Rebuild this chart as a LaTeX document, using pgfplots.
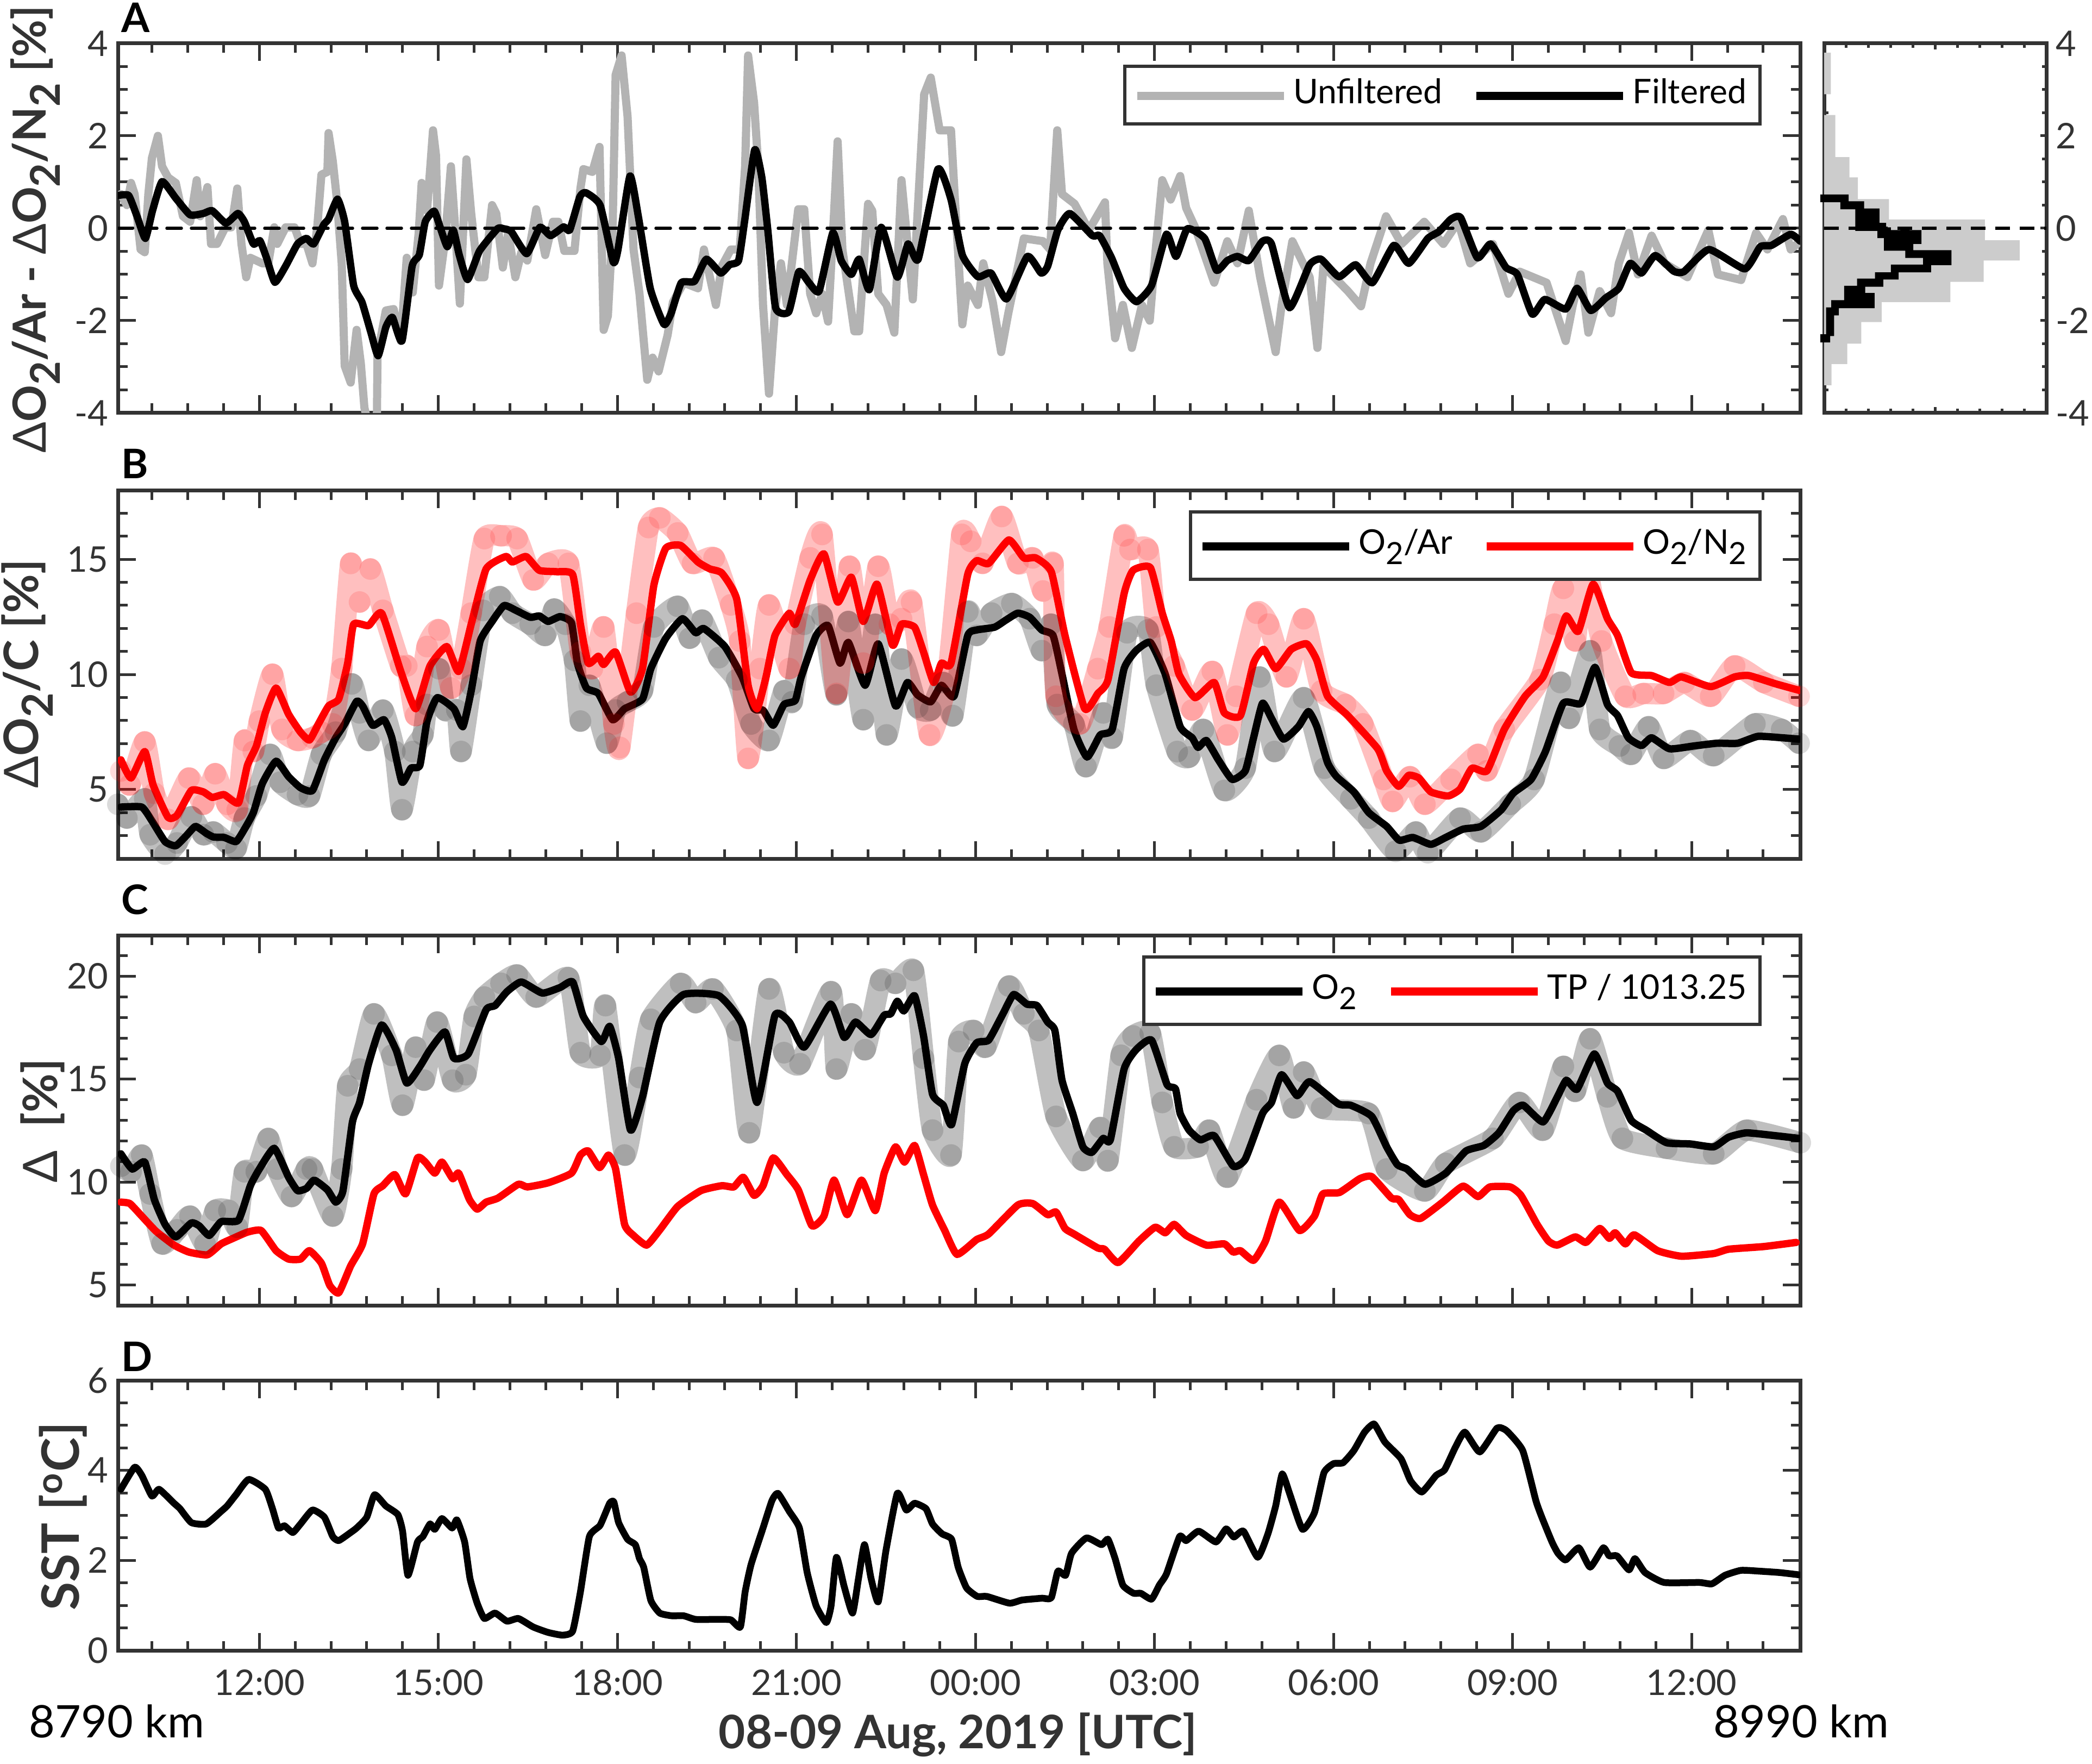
\documentclass[border=0pt]{standalone}
\usepackage{fontspec}
\setmainfont{Lato}
\usepackage{pgfplots}
\usepackage{pgfplotstable}
\pgfplotsset{compat=1.18}
\definecolor{axcol}{HTML}{333333}
\definecolor{grayline}{HTML}{B3B3B3}
\definecolor{histgray}{HTML}{CCCCCC}
\newcommand{\sub}[1]{\raisebox{-0.6ex}{\scalebox{.9}{#1}}}
\newcommand{\dd}{{\mdseries Δ}}
% Panel A
\pgfplotstableread[row sep=\\]{x y\\9.64 .71\\9.81 .71\\9.95 .26\\10.09 -.22\\10.21 .38\\10.37 1.01\\10.60 .65\\10.84 .29\\11.06 .32\\11.21 .38\\11.44 .11\\11.64 .32\\11.75 .14\\11.90 -.34\\12.01 -.27\\12.12 -.64\\12.26 -1.17\\12.44 -.82\\12.64 -.34\\12.79 -.22\\12.91 -.34\\13.08 .08\\13.16 .2\\13.31 .63\\13.43 .14\\13.58 -1.24\\13.72 -1.6\\13.87 -2.26\\13.99 -2.76\\14.12 -2.14\\14.23 -1.93\\14.39 -2.44\\14.56 -.82\\14.68 -.58\\14.78 .14\\14.93 .37\\15.03 .02\\15.15 -.40\\15.25 -.04\\15.35 -.58\\15.49 -1.11\\15.69 -.49\\15.99 -.01\\16.09 -.01\\16.22 -.07\\16.48 -.55\\16.70 .02\\16.88 -.16\\17.10 .03\\17.20 -.04\\17.37 .68\\17.47 .77\\17.71 .50\\17.93 -.73\\18.01 -.46\\18.21 1.13\\18.35 .26\\18.55 -1.30\\18.78 -2.08\\18.90 -1.84\\19.07 -1.18\\19.29 -1.15\\19.49 -.67\\19.73 -.97\\19.88 -.79\\20.03 -.70\\20.13 .14\\20.30 1.70\\20.42 1.10\\20.52 -.04\\20.65 -1.72\\20.87 -1.81\\21.04 -.94\\21.21 -1.18\\21.38 -1.36\\21.61 -.10\\21.75 -.70\\21.92 -1.00\\22.05 -.67\\22.22 -1.33\\22.42 .02\\22.69 -1.06\\22.87 -.34\\23.04 -.67\\23.37 1.28\\23.59 .62\\23.78 -.58\\24.04 -1.05\\24.26 -.97\\24.52 -1.53\\24.87 -.61\\25.10 -.97\\25.21 -.82\\25.38 -.04\\25.58 .32\\25.96 -.16\\26.08 -.16\\26.28 -.64\\26.49 -1.30\\26.70 -1.59\\26.95 -1.24\\27.20 -.13\\27.36 -.61\\27.55 -.01\\27.84 -.22\\28.04 -.91\\28.22 -.70\\28.39 -.61\\28.58 -.70\\28.81 -.28\\28.96 -.34\\29.26 -1.72\\29.60 -.79\\29.79 -.67\\30.09 -1.05\\30.37 -.79\\30.65 -1.18\\31.01 -.37\\31.26 -.76\\31.58 -.22\\31.77 -.07\\31.97 .2\\32.13 .23\\32.41 -.64\\32.63 -.34\\32.89 -.85\\33.08 -1.0\\33.33 -1.86\\33.54 -1.54\\33.89 -1.75\\34.08 -1.30\\34.31 -1.78\\34.56 -1.51\\34.78 -1.30\\34.97 -.76\\35.16 -.97\\35.39 -.59\\35.70 -.93\\35.87 -.94\\36.29 -.46\\36.89 -.88\\37.15 -.40\\37.34 -.37\\37.66 -.13\\37.82 -.28\\}\Afilt
\pgfplotstableread[row sep=\\]{x y\\9.68 .74\\9.78 .5\\9.85 .98\\9.91 .74\\10.01 -.46\\10.08 -.52\\10.14 .74\\10.20 1.52\\10.30 2.0\\10.37 1.34\\10.47 1.1\\10.60 .98\\10.72 .26\\10.84 .14\\10.95 1.04\\11.01 .26\\11.13 .89\\11.19 -.34\\11.29 -.34\\11.43 .02\\11.53 .02\\11.63 .86\\11.70 -.34\\11.78 -1.06\\11.85 -.64\\12.05 -.76\\12.15 -.76\\12.25 .02\\12.30 -.34\\12.44 .02\\12.59 .02\\12.69 -.34\\12.79 -.34\\12.89 -.76\\12.97 .02\\13.04 1.16\\13.14 1.22\\13.16 2.06\\13.23 1.46\\13.30 .62\\13.38 -.76\\13.43 -2.98\\13.53 -3.34\\13.63 -2.2\\13.70 -2.92\\13.76 -3.88\\13.83 -4.3\\13.90 -4.3\\13.97 -4.1\\13.98 -2.74\\14.12 -1.78\\14.25 -1.75\\14.37 -2.44\\14.47 -.64\\14.57 -1.39\\14.67 -.1\\14.72 .98\\14.81 .38\\14.91 2.12\\14.96 1.58\\15.01 -1.24\\15.11 -.28\\15.21 1.34\\15.28 .02\\15.36 -1.63\\15.47 1.49\\15.55 .32\\15.67 -1.06\\15.77 -1.06\\15.90 .5\\15.97 .32\\16.08 -.85\\16.17 -.1\\16.29 -1.06\\16.39 -.52\\16.49 -.7\\16.64 .41\\16.79 -.58\\16.92 .14\\17.01 .14\\17.11 -.49\\17.28 -.49\\17.38 .86\\17.43 1.28\\17.58 1.22\\17.70 1.76\\17.77 -2.2\\17.84 -1.9\\17.92 .02\\17.97 3.32\\18.07 3.74\\18.17 2.42\\18.27 -.46\\18.37 -1.42\\18.50 -3.28\\18.59 -2.8\\18.69 -3.1\\18.84 -2.32\\18.93 -1.6\\19.11 -1.18\\19.35 -1.3\\19.45 -.46\\19.65 -1.66\\19.75 -.82\\19.90 -.46\\20.05 -.46\\20.14 1.34\\20.19 3.74\\20.29 2.72\\20.36 1.34\\20.44 -1.66\\20.54 -3.58\\20.64 -1.78\\20.74 -.76\\20.84 -1.66\\21.03 .41\\21.13 .41\\21.23 -1.42\\21.33 -1.84\\21.43 -1.42\\21.53 -2.02\\21.63 .32\\21.69 1.88\\21.77 -.46\\21.97 -2.23\\22.05 -2.23\\22.20 .53\\22.27 .38\\22.37 -1.42\\22.51 -1.66\\22.64 -2.26\\22.76 1.04\\22.95 -1.54\\23.14 2.9\\23.25 3.26\\23.40 2.12\\23.59 2.12\\23.65 .74\\23.78 -2.08\\23.87 -1.24\\24.04 -1.66\\24.13 -.76\\24.29 -1.6\\24.43 -2.68\\24.55 -1.84\\24.81 -.22\\25.13 -.28\\25.25 -.46\\25.37 2.12\\25.45 .74\\25.66 .53\\25.90 -.04\\26.17 .56\\26.21 -.76\\26.34 -2.38\\26.47 -1.66\\26.62 -2.59\\26.79 -1.66\\26.92 -2.0\\27.02 -.46\\27.13 1.04\\27.27 .62\\27.43 1.13\\27.53 .44\\27.68 .02\\28.0 -1.18\\28.22 -.28\\28.39 -.76\\28.58 .38\\28.77 -1.06\\29.03 -2.68\\29.13 -1.66\\29.31 -.28\\29.6 -1.06\\29.73 -2.59\\29.83 -.82\\30.24 -1.36\\30.46 -1.69\\30.62 -.76\\30.88 .26\\31.14 -.34\\31.52 .14\\31.84 -.34\\32.09 .14\\32.29 -.76\\32.67 -.34\\32.93 -1.42\\33.12 -.94\\33.57 -1.18\\33.89 -2.44\\34.01 -1.66\\34.14 -1.0\\34.27 -2.26\\34.46 -1.36\\34.65 -1.84\\34.78 -.76\\34.95 -.1\\35.10 -1.0\\35.33 -.16\\35.55 -.76\\35.93 -1.06\\36.28 -.04\\36.44 -1.0\\36.83 -1.12\\37.08 -.1\\37.27 -.46\\37.53 .2\\37.66 -.46\\37.82 -.28\\}\Araw
\pgfplotstableread[row sep=\\]{x y\\0 3.8\\.03 3.8\\.03 2.9\\0 2.9\\0 2.45\\.05 2.45\\.05 1.54\\.114 1.54\\.114 1.10\\.152 1.10\\.152 .63\\.292 .63\\.292 .19\\.723 .19\\.723 -.26\\.88 -.26\\.88 -.70\\.718 -.70\\.718 -1.16\\.568 -1.16\\.568 -1.6\\.259 -1.6\\.259 -2.03\\.167 -2.03\\.167 -2.5\\.104 -2.5\\.104 -2.94\\.033 -2.94\\.033 -3.4\\0 -3.4\\}\Hgray
\pgfplotstableread[row sep=\\]{x y\\-.017 .732\\.110 .732\\.110 .584\\.180 .584\\.180 .428\\.249 .428\\.249 .117\\.279 .117\\.279 .019\\.300 .019\\.300 -.039\\.343 -.039\\.343 .012\\.384 .012\\.384 -.039\\.438 -.039\\.438 -.339\\.401 -.339\\.401 -.475\\.573 -.475\\.573 -.798\\.481 -.798\\.481 -.953\\.335 -.953\\.335 -1.109\\.266 -1.109\\.266 -1.265\\.185 -1.265\\.185 -1.401\\.227 -1.401\\.227 -1.732\\.066 -1.732\\.066 -1.887\\.045 -1.887\\.045 -2.335\\.027 -2.335\\.027 -2.471\\-.017 -2.471\\-.017 -2.296\\.009 -2.296\\.009 -1.712\\.032 -1.712\\.032 -1.556\\.090 -1.556\\.090 -1.245\\.148 -1.245\\.148 -1.089\\.229 -1.089\\.229 -.953\\.300 -.953\\.300 -.786\\.445 -.786\\.445 -.642\\.365 -.642\\.365 -.486\\.269 -.486\\.269 -.214\\.240 -.214\\.240 -.058\\.140 -.058\\.140 .409\\.073 .409\\.073 .564\\-.017 .564\\}\Hblack
% Panel B
\pgfplotstableread[row sep=\\]{x y\\9.68 4.24\\10.03 4.24\\10.20 3.64\\10.42 2.74\\10.60 2.56\\10.77 2.98\\10.93 3.40\\11.11 3.10\\11.23 2.94\\11.41 2.92\\11.61 2.74\\11.75 3.28\\11.90 4.0\\12.05 5.26\\12.28 6.23\\12.49 5.56\\12.69 5.08\\12.89 4.96\\13.09 6.29\\13.28 7.25\\13.43 7.85\\13.63 8.83\\13.73 8.63\\13.90 7.79\\14.09 8.03\\14.22 7.25\\14.39 5.32\\14.54 5.93\\14.69 6.05\\14.81 7.97\\14.98 8.99\\15.26 8.51\\15.41 7.73\\15.55 9.29\\15.70 11.45\\15.90 12.30\\16.10 12.99\\16.30 12.78\\16.54 12.48\\16.69 12.54\\16.84 12.30\\17.04 12.51\\17.23 12.24\\17.33 10.49\\17.48 9.41\\17.68 9.17\\17.92 8.03\\18.12 8.51\\18.42 8.93\\18.56 10.25\\18.81 11.57\\19.09 12.42\\19.31 11.81\\19.45 11.99\\19.80 11.21\\20.09 9.89\\20.29 8.51\\20.44 8.45\\20.61 7.79\\20.79 8.69\\20.98 8.87\\21.08 9.89\\21.33 11.69\\21.53 12.12\\21.73 10.49\\21.87 11.39\\22.15 9.53\\22.37 11.33\\22.66 8.63\\22.86 9.65\\23.03 9.11\\23.25 8.81\\23.43 9.53\\23.64 9.05\\23.87 11.69\\24.02 11.93\\24.32 12.05\\24.51 12.36\\24.71 12.66\\24.91 12.48\\25.11 11.93\\25.30 11.69\\25.45 10.01\\25.65 7.61\\25.87 6.41\\26.09 7.37\\26.29 7.61\\26.49 10.25\\26.69 11.03\\26.93 11.39\\27.18 10.01\\27.43 7.73\\27.63 7.25\\27.73 6.83\\27.87 7.13\\28.07 6.29\\28.30 5.44\\28.52 5.81\\28.66 7.25\\28.81 8.75\\28.96 8.09\\29.16 7.19\\29.41 7.73\\29.58 8.39\\29.72 7.73\\29.90 6.17\\30.05 5.56\\30.34 4.90\\30.59 4.0\\30.89 3.40\\31.10 2.80\\31.33 2.92\\31.63 2.62\\31.88 2.92\\32.17 3.28\\32.47 3.40\\32.81 4.12\\33.01 4.84\\33.31 5.44\\33.55 6.65\\33.85 8.75\\34.15 8.75\\34.38 10.31\\34.59 8.69\\34.76 8.21\\34.94 7.25\\35.16 6.91\\35.33 7.25\\35.63 6.77\\36.03 6.89\\36.42 7.01\\36.77 7.01\\37.11 7.31\\37.51 7.25\\37.80 7.19\\}\Bkf
\pgfplotstableread[row sep=\\]{x y\\9.63 4.36\\9.78 3.76\\10.08 4.60\\10.17 3.04\\10.42 2.20\\10.62 2.68\\10.86 3.82\\11.06 3.04\\11.23 3.16\\11.46 2.68\\11.61 2.44\\11.75 3.76\\11.95 4.72\\12.18 6.53\\12.35 5.32\\12.64 4.78\\12.84 4.72\\13.04 6.53\\13.28 7.49\\13.55 9.59\\13.68 8.33\\13.83 7.13\\14.07 8.45\\14.27 6.65\\14.39 4.12\\14.57 6.65\\14.74 7.37\\14.81 8.69\\15.01 10.25\\15.11 8.45\\15.31 8.45\\15.38 6.65\\15.55 9.53\\15.75 12.78\\16.03 13.38\\16.24 12.66\\16.54 12.18\\16.79 11.69\\16.94 12.84\\17.13 12.18\\17.28 10.61\\17.38 7.97\\17.53 9.53\\17.82 7.01\\17.97 8.45\\18.17 8.81\\18.42 9.29\\18.61 12.06\\19.01 12.96\\19.21 11.57\\19.42 12.36\\19.70 10.73\\20.0 9.77\\20.24 7.85\\20.54 7.13\\20.79 9.29\\20.93 8.81\\21.13 12.18\\21.43 12.54\\21.67 9.11\\21.87 12.30\\22.12 8.03\\22.32 12.18\\22.51 7.37\\22.76 10.67\\23.03 8.57\\23.25 8.45\\23.46 9.65\\23.62 8.21\\23.87 12.72\\24.02 11.69\\24.27 12.66\\24.61 13.08\\24.91 12.42\\25.11 11.03\\25.27 12.18\\25.37 8.69\\25.65 7.85\\25.85 5.99\\26.14 8.33\\26.29 7.25\\26.54 11.81\\26.89 11.93\\27.03 9.53\\27.38 6.65\\27.58 6.41\\27.82 7.61\\28.17 4.96\\28.52 5.93\\28.76 9.89\\29.01 6.65\\29.50 8.99\\29.85 5.93\\30.29 4.60\\30.59 3.76\\31.04 2.32\\31.38 3.16\\31.58 2.26\\32.12 3.76\\32.47 3.16\\32.96 4.36\\33.36 5.44\\33.80 9.65\\33.95 8.09\\34.30 11.03\\34.46 7.61\\34.79 6.89\\34.99 6.53\\35.28 7.73\\35.53 6.35\\35.98 7.13\\36.37 6.47\\37.06 7.85\\37.51 7.61\\37.80 7.01\\}\Bkr
\pgfplotstableread[row sep=\\]{x y\\9.68 6.29\\9.85 5.50\\10.08 6.65\\10.22 5.20\\10.47 3.79\\10.62 3.88\\10.86 4.96\\11.06 4.90\\11.21 4.66\\11.41 4.78\\11.65 4.42\\11.80 6.05\\11.95 6.89\\12.10 8.33\\12.28 9.41\\12.49 8.27\\12.69 7.49\\12.84 7.15\\12.99 7.85\\13.16 8.63\\13.33 8.93\\13.48 10.49\\13.58 12.18\\13.83 12.12\\14.05 12.66\\14.37 10.13\\14.62 8.51\\14.86 10.37\\15.14 11.21\\15.34 10.13\\15.55 12.18\\15.80 14.58\\16.13 15.12\\16.24 14.88\\16.47 15.12\\16.69 14.52\\16.98 14.46\\17.25 14.34\\17.38 12.18\\17.51 10.49\\17.68 10.79\\17.77 10.43\\17.97 10.97\\18.22 9.23\\18.42 10.25\\18.61 13.86\\18.81 15.48\\19.06 15.60\\19.35 14.88\\19.55 14.58\\19.75 14.40\\20.0 13.26\\20.19 9.53\\20.34 8.51\\20.49 9.89\\20.64 11.69\\20.88 12.66\\20.98 12.18\\21.23 14.10\\21.46 15.24\\21.69 13.14\\21.92 14.22\\22.12 12.30\\22.35 13.92\\22.61 11.27\\22.76 12.18\\22.98 12.05\\23.13 10.97\\23.30 9.65\\23.43 10.49\\23.59 10.49\\23.87 14.34\\24.02 14.94\\24.22 14.82\\24.56 15.84\\24.81 15.06\\25.01 15.06\\25.27 14.46\\25.50 11.69\\25.83 8.51\\26.05 9.17\\26.22 9.77\\26.49 13.50\\26.64 14.52\\26.93 14.64\\27.13 12.66\\27.28 11.45\\27.41 10.01\\27.68 8.99\\28.0 9.65\\28.17 8.33\\28.44 8.21\\28.66 10.49\\28.83 11.09\\29.03 10.25\\29.29 11.09\\29.55 11.33\\29.72 10.61\\29.90 9.05\\30.24 8.21\\30.74 6.77\\30.89 5.81\\31.09 5.14\\31.26 5.62\\31.43 5.50\\31.63 4.90\\31.92 4.72\\32.12 5.02\\32.32 5.93\\32.57 5.81\\32.86 7.61\\33.21 9.05\\33.51 9.89\\33.75 11.45\\33.90 12.54\\34.10 11.87\\34.35 13.92\\34.59 12.42\\34.76 11.69\\34.99 10.07\\35.33 9.95\\35.63 9.65\\35.83 9.89\\36.32 9.47\\36.72 9.89\\36.96 9.95\\37.41 9.59\\37.80 9.31\\}\Brf
\pgfplotstableread[row sep=\\]{x y\\9.68 5.81\\9.83 5.20\\10.08 7.07\\10.24 4.84\\10.47 3.70\\10.82 5.50\\11.06 4.36\\11.26 5.69\\11.46 4.36\\11.63 4.12\\11.75 7.13\\11.90 6.65\\12.0 7.97\\12.22 10.01\\12.38 7.61\\12.64 7.13\\12.89 7.25\\13.04 7.49\\13.23 7.85\\13.38 10.25\\13.53 14.82\\13.68 13.14\\13.86 14.58\\14.07 12.78\\14.37 10.37\\14.47 10.37\\14.62 8.21\\14.81 11.21\\15.01 11.93\\15.21 9.41\\15.38 10.25\\15.55 12.66\\15.77 15.90\\16.05 16.02\\16.32 15.90\\16.59 14.10\\16.84 14.82\\17.18 14.82\\17.38 10.97\\17.58 10.25\\17.77 12.06\\17.94 7.85\\18.04 6.83\\18.32 12.66\\18.52 16.38\\18.71 16.80\\19.01 16.14\\19.26 14.82\\19.62 15.06\\19.90 13.02\\20.05 11.45\\20.19 6.35\\20.39 10.25\\20.54 13.02\\20.88 10.25\\20.98 12.18\\21.23 15.06\\21.43 16.08\\21.67 9.17\\21.89 14.70\\22.12 10.49\\22.37 14.70\\22.56 12.18\\22.76 12.42\\22.93 13.14\\23.23 7.37\\23.53 9.89\\23.77 16.08\\23.92 15.78\\24.12 14.82\\24.44 16.86\\24.71 14.82\\24.96 15.06\\25.13 13.62\\25.30 14.82\\25.35 9.05\\25.75 7.85\\26.05 10.25\\26.24 12.06\\26.49 16.02\\26.59 15.42\\26.89 15.42\\27.03 12.06\\27.33 10.37\\27.63 8.45\\27.97 10.13\\28.22 7.37\\28.37 9.05\\28.71 12.66\\28.91 12.18\\29.21 9.89\\29.50 12.42\\29.80 9.29\\30.20 8.69\\30.49 7.85\\30.84 5.44\\30.99 4.48\\31.28 5.56\\31.53 4.36\\31.97 5.44\\32.42 6.53\\32.57 5.81\\32.86 7.61\\33.46 9.77\\33.70 12.18\\33.85 13.74\\34.05 11.45\\34.20 15.06\\34.49 11.45\\34.89 9.05\\35.19 9.17\\35.53 9.17\\35.88 9.65\\36.32 9.05\\36.72 10.37\\37.21 9.65\\37.80 9.05\\}\Brr
% Panel C
\pgfplotstableread[row sep=\\]{x y\\9.68 11.37\\9.87 10.63\\10.08 10.97\\10.24 9.15\\10.42 7.94\\10.60 7.33\\10.86 8.01\\10.99 7.87\\11.16 7.40\\11.36 8.07\\11.65 8.14\\11.85 9.82\\12.0 10.63\\12.25 11.64\\12.49 10.23\\12.64 9.58\\12.79 9.69\\12.92 10.09\\13.14 9.62\\13.28 9.02\\13.40 9.56\\13.56 12.92\\13.68 13.87\\13.83 15.75\\14.05 17.64\\14.29 16.43\\14.47 14.81\\14.69 15.62\\14.86 16.43\\15.11 17.30\\15.26 16.02\\15.50 16.23\\15.80 18.38\\15.95 18.58\\16.15 19.26\\16.39 19.73\\16.74 19.19\\17.04 19.46\\17.25 19.73\\17.43 18.05\\17.73 16.83\\17.87 17.57\\18.02 16.02\\18.22 12.52\\18.42 14.14\\18.71 17.78\\19.11 19.12\\19.70 19.06\\20.09 17.64\\20.34 13.87\\20.64 18.11\\20.88 17.78\\21.13 16.56\\21.57 18.65\\21.80 17.03\\21.99 17.78\\22.25 17.17\\22.47 18.11\\22.58 18.18\\22.69 18.79\\22.80 18.32\\22.98 19.06\\23.13 17.10\\23.28 14.27\\23.46 13.73\\23.60 12.79\\23.82 15.75\\24.02 16.77\\24.22 16.90\\24.46 18.18\\24.64 19.12\\24.86 18.65\\25.03 18.58\\25.21 17.78\\25.33 17.37\\25.45 14.95\\25.63 13.33\\25.80 11.71\\25.95 11.44\\26.14 12.12\\26.26 12.05\\26.49 15.49\\26.69 16.43\\26.95 16.90\\27.21 14.74\\27.35 14.54\\27.43 13.33\\27.58 12.52\\27.77 12.05\\28.0 12.25\\28.32 10.77\\28.52 11.11\\28.81 13.33\\28.96 13.87\\29.13 15.22\\29.39 14.20\\29.60 14.88\\30.08 13.80\\30.29 13.73\\30.64 13.19\\30.89 11.71\\31.07 10.84\\31.23 10.63\\31.53 9.89\\31.88 10.43\\32.22 11.51\\32.52 11.78\\32.77 12.39\\33.01 13.46\\33.18 13.73\\33.51 12.92\\33.75 14.14\\33.90 14.95\\34.08 14.51\\34.37 16.23\\34.59 14.81\\34.76 14.41\\34.99 12.99\\35.24 12.52\\35.58 11.91\\35.98 11.85\\36.37 11.71\\36.62 12.18\\36.92 12.39\\37.41 12.25\\37.80 12.12\\}\Ckf
\pgfplotstableread[row sep=\\]{x y\\9.68 10.77\\9.85 10.50\\10.03 11.31\\10.17 9.42\\10.37 6.99\\10.62 7.67\\10.84 8.34\\11.09 6.99\\11.26 8.61\\11.49 8.61\\11.63 7.80\\11.75 10.50\\11.95 10.50\\12.15 12.12\\12.30 10.63\\12.54 9.29\\12.79 10.63\\12.89 10.63\\13.23 8.34\\13.38 10.63\\13.48 14.68\\13.68 15.49\\13.92 18.18\\14.22 16.16\\14.40 13.73\\14.62 16.56\\14.76 14.95\\14.98 17.78\\15.24 14.95\\15.46 15.22\\15.60 18.05\\15.77 18.99\\16.05 19.66\\16.32 20.07\\16.64 18.99\\17.18 19.93\\17.38 16.29\\17.71 16.16\\17.80 18.58\\18.12 11.31\\18.37 15.08\\18.56 17.91\\19.06 19.66\\19.31 18.72\\19.60 19.39\\20.0 17.37\\20.21 12.39\\20.54 19.39\\20.79 16.29\\21.06 15.75\\21.58 19.26\\21.67 15.49\\21.92 18.18\\22.15 16.43\\22.41 19.80\\22.66 19.66\\22.96 20.30\\23.13 16.02\\23.28 12.52\\23.59 11.31\\23.72 16.83\\23.97 17.37\\24.17 16.56\\24.56 19.53\\24.81 18.18\\25.06 17.37\\25.35 13.19\\25.80 11.04\\26.09 12.65\\26.22 11.04\\26.44 16.16\\26.64 17.10\\26.93 17.24\\27.13 13.87\\27.33 11.71\\27.73 11.71\\27.92 12.52\\28.22 10.23\\28.71 14.0\\29.09 16.16\\29.33 13.60\\29.50 15.35\\29.80 13.60\\30.59 13.33\\30.89 10.63\\31.53 9.56\\31.88 10.90\\32.67 12.12\\33.11 13.87\\33.51 12.52\\33.85 15.62\\34.05 14.41\\34.30 16.97\\34.59 14.14\\34.84 12.12\\35.58 11.64\\36.37 11.37\\36.92 12.52\\37.82 11.91\\}\Ckr
\pgfplotstableread[row sep=\\]{x y\\9.68 9.02\\9.83 8.95\\10.03 8.34\\10.27 7.60\\10.57 6.93\\10.82 6.59\\11.13 6.46\\11.36 6.99\\11.56 7.26\\11.80 7.56\\12.03 7.64\\12.28 6.66\\12.49 6.25\\12.69 6.25\\12.84 6.66\\13.04 6.05\\13.18 4.97\\13.33 4.61\\13.53 5.92\\13.73 6.99\\13.92 9.42\\14.07 9.82\\14.27 10.36\\14.45 9.42\\14.65 11.17\\14.78 10.97\\14.94 10.43\\15.06 10.97\\15.24 10.16\\15.34 10.43\\15.52 9.15\\15.65 8.68\\15.80 9.02\\16.0 9.22\\16.34 9.89\\16.49 9.76\\16.84 9.96\\17.23 10.43\\17.38 11.31\\17.51 11.51\\17.70 10.70\\17.85 11.31\\17.97 10.63\\18.12 7.94\\18.27 7.40\\18.49 6.93\\18.71 7.67\\19.01 8.81\\19.40 9.58\\19.75 9.82\\19.95 9.76\\20.11 10.23\\20.29 9.35\\20.44 9.82\\20.61 11.17\\20.84 10.36\\21.03 9.62\\21.26 7.87\\21.46 8.34\\21.63 10.09\\21.85 8.41\\22.09 10.09\\22.32 8.61\\22.47 10.43\\22.66 11.71\\22.81 10.97\\22.98 11.78\\23.13 10.36\\23.28 8.88\\23.48 7.67\\23.69 6.48\\24.02 7.20\\24.22 7.47\\24.71 8.88\\24.96 8.95\\25.21 8.41\\25.35 8.54\\25.50 7.74\\25.65 7.47\\26.05 6.79\\26.16 6.73\\26.39 6.08\\26.74 7.13\\27.01 7.80\\27.18 7.53\\27.33 7.94\\27.53 7.40\\27.87 6.93\\28.17 6.99\\28.32 6.59\\28.44 6.66\\28.66 6.19\\28.86 7.13\\29.09 9.02\\29.43 7.64\\29.68 8.34\\29.82 9.42\\30.10 9.49\\30.44 10.16\\30.64 10.26\\30.97 9.22\\31.09 9.15\\31.28 8.41\\31.46 8.23\\31.83 9.02\\32.17 9.80\\32.42 9.29\\32.62 9.76\\32.96 9.76\\33.14 9.35\\33.41 7.94\\33.60 7.13\\33.75 6.93\\34.05 7.33\\34.23 7.06\\34.46 7.74\\34.62 7.26\\34.72 7.53\\34.89 6.99\\35.04 7.43\\35.43 6.66\\35.83 6.39\\36.37 6.52\\36.62 6.73\\37.21 6.86\\37.75 7.06\\}\Crf
% Panel D
\pgfplotstableread[row sep=\\]{x y\\9.68 3.58\\9.91 4.07\\10.03 3.89\\10.20 3.43\\10.32 3.58\\10.57 3.27\\10.67 3.15\\10.86 2.84\\11.11 2.81\\11.36 3.09\\11.46 3.21\\11.61 3.46\\11.82 3.80\\12.10 3.58\\12.22 3.15\\12.32 2.72\\12.42 2.77\\12.56 2.62\\12.69 2.81\\12.89 3.12\\13.09 2.96\\13.23 2.53\\13.33 2.44\\13.53 2.62\\13.63 2.72\\13.80 2.96\\13.93 3.46\\14.12 3.21\\14.32 3.02\\14.40 2.65\\14.49 1.67\\14.65 2.41\\14.74 2.53\\14.86 2.81\\14.94 2.69\\15.06 2.93\\15.23 2.72\\15.31 2.90\\15.44 2.41\\15.53 1.60\\15.65 1.05\\15.77 .71\\15.95 .83\\16.15 .65\\16.34 .71\\16.59 .52\\16.84 .40\\17.08 .34\\17.25 .43\\17.38 1.30\\17.53 2.53\\17.71 2.78\\17.87 3.27\\17.94 3.30\\18.02 2.84\\18.17 2.47\\18.30 2.35\\18.37 2.04\\18.44 1.85\\18.56 1.11\\18.71 .83\\18.91 .77\\19.11 .77\\19.31 .69\\19.65 .69\\19.90 .68\\20.06 .52\\20.14 1.30\\20.24 1.91\\20.44 2.72\\20.59 3.33\\20.69 3.49\\20.88 3.09\\21.05 2.72\\21.18 1.73\\21.33 .99\\21.50 .62\\21.58 .99\\21.67 2.07\\21.80 1.42\\21.94 .83\\22.04 1.60\\22.14 2.35\\22.25 1.60\\22.37 1.08\\22.50 2.22\\22.69 3.49\\22.84 3.12\\22.98 3.27\\23.17 3.15\\23.28 2.81\\23.44 2.59\\23.60 2.47\\23.71 1.85\\23.85 1.39\\24.03 1.20\\24.19 1.20\\24.57 1.05\\24.78 1.12\\25.11 1.16\\25.27 1.17\\25.38 1.76\\25.51 1.67\\25.61 2.16\\25.86 2.50\\26.11 2.35\\26.22 2.47\\26.34 2.04\\26.47 1.45\\26.65 1.27\\26.77 1.27\\26.95 1.14\\27.08 1.45\\27.20 1.70\\27.42 2.53\\27.53 2.44\\27.74 2.65\\28.03 2.41\\28.20 2.70\\28.33 2.52\\28.49 2.65\\28.73 2.07\\28.90 2.59\\29.03 3.21\\29.14 3.92\\29.27 3.46\\29.48 2.69\\29.68 3.06\\29.84 3.95\\30.0 4.15\\30.16 4.17\\30.34 4.44\\30.52 4.85\\30.68 5.03\\30.86 4.63\\31.13 4.26\\31.29 3.77\\31.48 3.52\\31.72 3.89\\31.86 4.01\\32.04 4.51\\32.20 4.85\\32.45 4.41\\32.74 4.94\\32.90 4.88\\33.17 4.44\\33.39 3.33\\33.49 2.96\\33.66 2.41\\33.76 2.16\\33.89 2.01\\34.11 2.28\\34.30 1.85\\34.52 2.28\\34.62 2.10\\34.75 2.10\\34.95 1.79\\35.05 2.04\\35.22 1.73\\35.54 1.51\\36.13 1.51\\36.34 1.48\\36.56 1.67\\36.83 1.78\\37.15 1.76\\37.48 1.73\\37.80 1.68\\}\Dsst
\pgfplotsset{
  panel/.style={scale only axis, anchor=south west, width=619.2pt,
    xmin=9.63, xmax=37.82, xtick={12,15,18,21,24,27,30,33,36},
    minor xtick={10.2,10.8,11.4,12.6,13.2,13.8,14.4,15.6,16.2,16.8,17.4,18.6,19.2,19.8,20.4,21.6,22.2,22.8,23.4,24.6,25.2,25.8,26.4,27.6,28.2,28.8,29.4,30.6,31.2,31.8,32.4,33.6,34.2,34.8,35.4,36.6,37.2},
    xticklabels={}, tick align=inside, major tick length=6.5pt, minor tick length=3.5pt,
    axis line style={line width=1.4pt,color=axcol},
    tick style={line width=1pt,color=axcol},
    tick label style={font=\fontsize{13}{15}\selectfont,text=axcol},
    label style={font=\fontsize{17.5}{19}\selectfont\bfseries,text=axcol},
    every axis plot/.append style={line join=round,line cap=round},
    legend cell align=left,
    legend image code/.code={\draw[##1,line width=3pt,line cap=butt] (0pt,-.3pt) -- (54pt,-.3pt);},
  },
  leg/.style 2 args={legend columns=2,
    legend style={at={(#1)},anchor=north east,draw=axcol,line width=1.2pt,
      font=\fontsize{12.5}{15}\selectfont,text=black,fill=white,
      nodes={text height=9.2pt,text depth=3pt},
      /tikz/every even column/.append style={column sep=9pt},
      inner xsep=3pt,inner ysep=#2}},
  fline/.style={line width=2.7pt,smooth,tension=.3},
  band/.style={forget plot,line width=7.8pt,opacity=.25,smooth,tension=.3},
  blob/.style={forget plot,only marks,mark=*,mark size=4pt,mark options={solid,draw opacity=0,fill opacity=.14}},
}
\begin{document}
\begin{tikzpicture}
\useasboundingbox (0,0) rectangle (770pt,649pt);
% A
\begin{axis}[panel, at={(43.4pt,497pt)}, height=136pt, ymin=-4, ymax=4,
  ytick={-4,-2,0,2,4}, yticklabels={-4,-2,0,2,4}, minor y tick num=3,
  ylabel={\dd O\sub{2}/Ar - \dd O\sub{2}/N\sub{2} [\%]},
  ylabel style={at={(axis description cs:-.0491,.497)},anchor=center,font=\fontsize{16.8}{19}\selectfont\bfseries},
  leg={.9772,.9426}{2.5pt}]
\addplot[color=grayline,line width=3pt] table[x=x,y=y]{\Araw};
\addlegendentry{Unfiltered}
\addplot[forget plot,black,line width=1.1pt,dash pattern=on 5.4pt off 3.6pt] coordinates {(9.63,0)(37.82,0)};
\addplot[black,fline] table[x=x,y=y]{\Afilt};
\addlegendentry{Filtered}
\end{axis}
% Histogram
\begin{axis}[scale only axis, anchor=south west, at={(671.4pt,497pt)}, width=81.8pt, height=136pt,
  xmin=0, xmax=1, ymin=-4, ymax=4, clip=false,
  xtick={0,.5,1}, xticklabels={}, minor x tick num=4,
  ytick={-4,-2,0,2,4}, yticklabels={-4,-2,0,2,4}, minor y tick num=3, yticklabel pos=right,
  tick align=inside, major tick length=2.2pt, minor tick length=1.6pt,
  axis line style={line width=1.4pt,color=axcol}, tick style={line width=1pt,color=axcol},
  tick label style={font=\fontsize{13}{15}\selectfont,text=axcol}]
\addplot[fill=histgray,draw=none] table[x=x,y=y]{\Hgray};
\addplot[fill=black,draw=none] table[x=x,y=y]{\Hblack};
\addplot[black,line width=1.1pt,dash pattern=on 5.4pt off 3.6pt] coordinates {(0,0)(1,0)};
\end{axis}
% B
\begin{axis}[panel, at={(43.4pt,333pt)}, height=135.6pt, ymin=2, ymax=18,
  ytick={5,10,15}, yticklabels={5,10,15}, minor ytick={3,4,6,7,8,9,11,12,13,14,16,17},
  ylabel={\dd O\sub{2}/C [\%]},
  ylabel style={at={(axis description cs:-.054,.5015)},anchor=center},
  leg={.9772,.9454}{4.3pt}]
\addplot[band,black] table[x=x,y=y]{\Bkr};
\addplot[blob,black] table[x=x,y=y]{\Bkr};
\addplot[black,fline] table[x=x,y=y]{\Bkf};
\addlegendentry{O\sub{2}/Ar}
\addplot[band,red] table[x=x,y=y]{\Brr};
\addplot[blob,red] table[x=x,y=y]{\Brr};
\addplot[red,fline] table[x=x,y=y]{\Brf};
\addlegendentry{O\sub{2}/N\sub{2}}
\end{axis}
% C
\begin{axis}[panel, at={(43.4pt,168.6pt)}, height=136.2pt, ymin=4, ymax=22,
  ytick={5,10,15,20}, yticklabels={5,10,15,20}, minor ytick={6,7,8,9,11,12,13,14,16,17,18,19,21},
  ylabel={\dd\ \ [\%]},
  ylabel style={at={(axis description cs:-.0449,.499)},anchor=center},
  leg={.9772,.9454}{4.3pt}]
\addplot[band,black] table[x=x,y=y]{\Ckr};
\addplot[blob,black] table[x=x,y=y]{\Ckr};
\addplot[black,fline] table[x=x,y=y]{\Ckf};
\addlegendentry{O\sub{2}}
\addplot[red,fline] table[x=x,y=y]{\Crf};
\addlegendentry{TP / 1013.25}
\end{axis}
% D
\begin{axis}[panel, at={(43.4pt,41.6pt)}, height=99.4pt, ymin=0, ymax=6,
  ytick={0,2,4,6}, yticklabels={0,2,4,6}, minor y tick num=3,
  xticklabels={12:00,15:00,18:00,21:00,00:00,03:00,06:00,09:00,12:00},
  xticklabel style={yshift=-3.5pt},
  ylabel={SST [\textsuperscript{o}C]},
  ylabel style={at={(axis description cs:-.0326,.497)},anchor=center,font=\fontsize{19}{21}\selectfont\bfseries},
  xlabel={08-09 Aug, 2019 [UTC]},
  xlabel style={at={(axis description cs:.4994,-.312)},anchor=center,font=\fontsize{17}{19}\selectfont\bfseries}]
\addplot[black,line width=2.5pt,smooth,tension=.3] table[x=x,y=y]{\Dsst};
\end{axis}
\node[anchor=center,font=\fontsize{16.5}{18}\selectfont,text=black] at (43pt,15.6pt) {8790 km};
\node[anchor=center,font=\fontsize{16.5}{18}\selectfont,text=black] at (663pt,15.6pt) {8990 km};
\node[anchor=west,inner sep=0pt,font=\fontsize{15}{17}\selectfont\bfseries] at (44.4pt,642.6pt) {A};
\node[anchor=west,inner sep=0pt,font=\fontsize{15}{17}\selectfont\bfseries] at (44.4pt,478.4pt) {B};
\node[anchor=west,inner sep=0pt,font=\fontsize{15}{17}\selectfont\bfseries] at (44.4pt,318pt) {C};
\node[anchor=west,inner sep=0pt,font=\fontsize{15}{17}\selectfont\bfseries] at (44.4pt,149.8pt) {D};
\end{tikzpicture}
\end{document}
